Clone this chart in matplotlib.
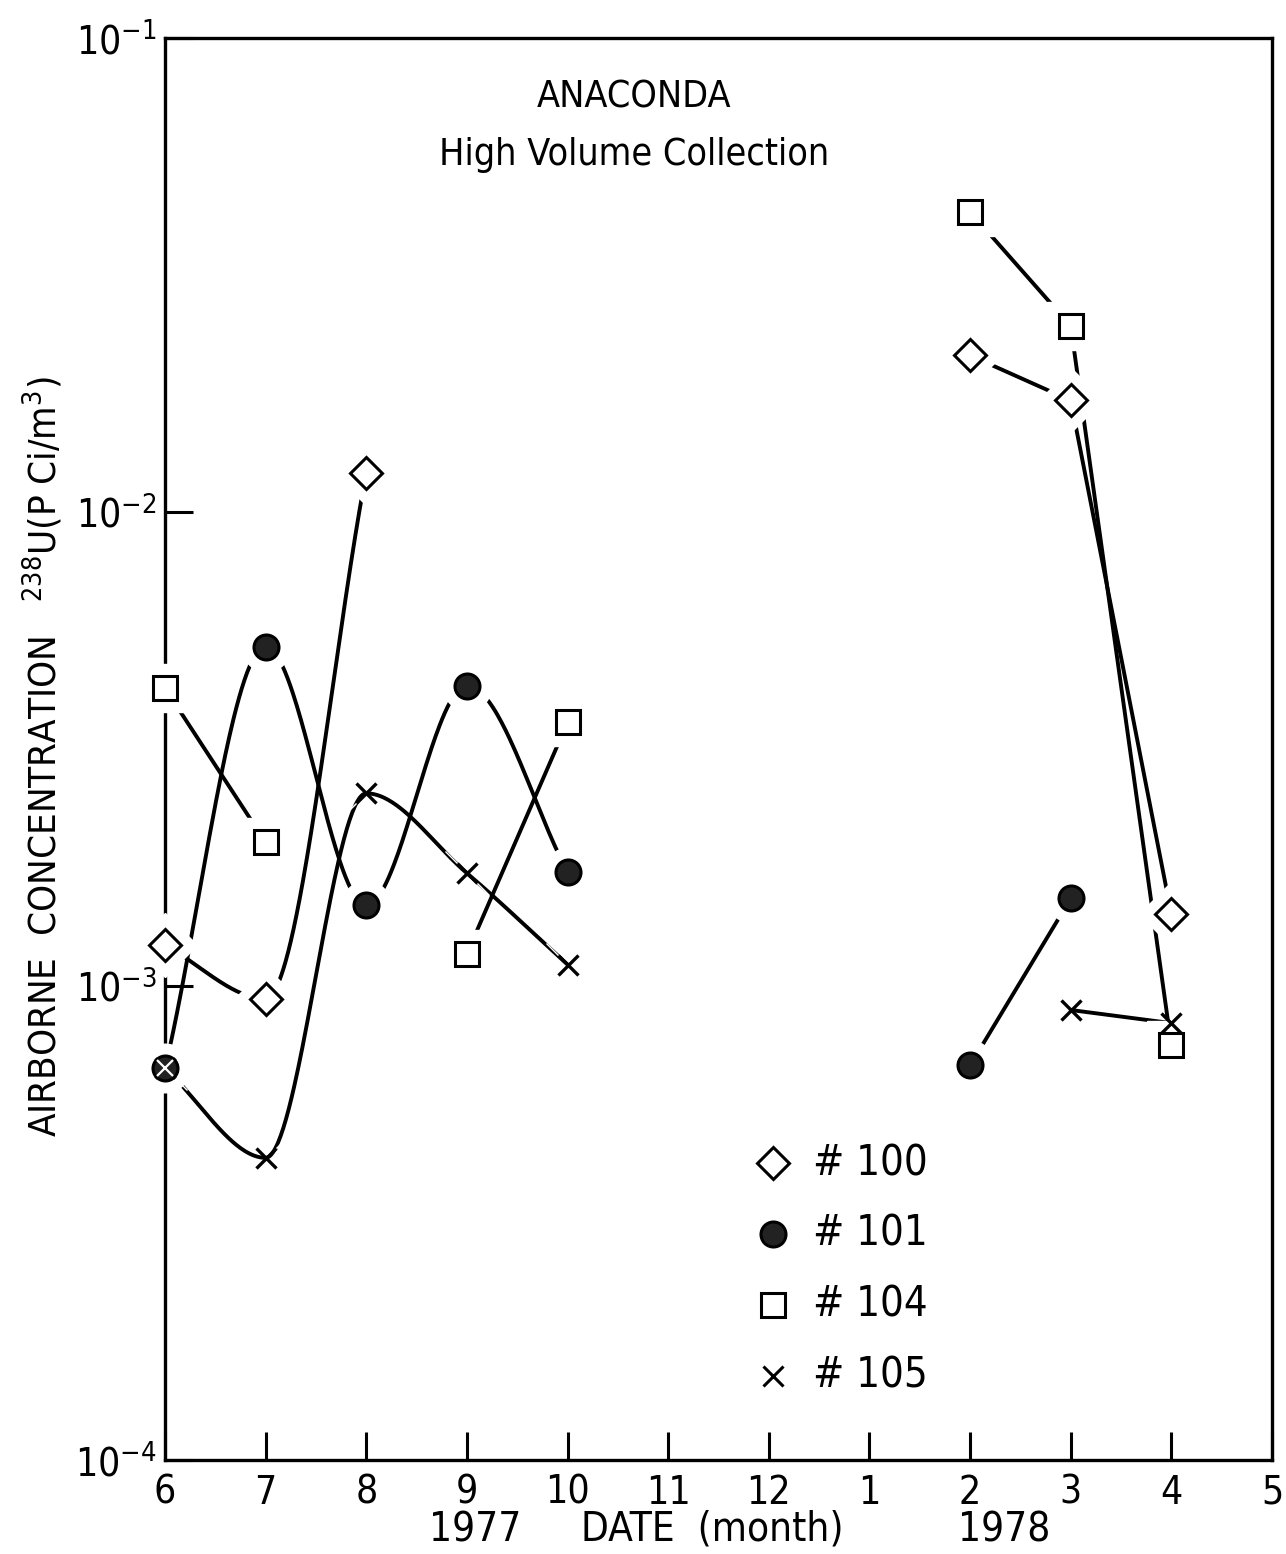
"""
Airborne 238U concentration at the Anaconda high volume samplers, 1977-1978.
"""

import numpy as np
import matplotlib
matplotlib.use("Agg")
import matplotlib.pyplot as plt

plt.rcParams['font.family'] = ['DejaVu Sans']
plt.rcParams['font.stretch'] = 'condensed'
plt.rcParams['mathtext.default'] = 'regular'

# month index 0 = June 1977 ... 11 = May 1978
month_labels = ["6", "7", "8", "9", "10", "11", "12", "1", "2", "3", "4", "5"]

# station #100 (diamond)
s100_x77 = [0, 1, 2]
s100_y77 = [1.22e-3, 9.4e-4, 1.21e-2]
s100_x78 = [8, 9, 10]
s100_y78 = [2.14e-2, 1.72e-2, 1.42e-3]

# station #101 (filled circle)
s101_x77 = [0, 1, 2, 3, 4]
s101_y77 = [6.7e-4, 5.2e-3, 1.48e-3, 4.3e-3, 1.74e-3]
s101_x78 = [8, 9]
s101_y78 = [6.8e-4, 1.53e-3]

# station #104 (square) - two separate pieces in 1977
s104_xa = [0, 1]
s104_ya = [4.25e-3, 2.01e-3]
s104_xb = [3, 4]
s104_yb = [1.17e-3, 3.6e-3]
s104_x78 = [8, 9, 10]
s104_y78 = [4.3e-2, 2.47e-2, 7.5e-4]

# station #105 (cross)
s105_x77 = [0, 1, 2, 3, 4]
s105_y77 = [6.7e-4, 4.34e-4, 2.55e-3, 1.73e-3, 1.11e-3]
s105_x78 = [9, 10]
s105_y78 = [8.9e-4, 8.35e-4]


def smooth(x, y, n=300):
    """Monotone cubic (PCHIP) through (x, log10 y), no overshoot between points."""
    x = np.asarray(x, float)
    ly = np.log10(np.asarray(y, float))
    h = np.diff(x)
    delta = np.diff(ly) / h
    k = len(x)
    d = np.zeros(k)
    for i in range(1, k - 1):
        if delta[i - 1] * delta[i] > 0:
            w1 = 2 * h[i] + h[i - 1]
            w2 = h[i] + 2 * h[i - 1]
            d[i] = (w1 + w2) / (w1 / delta[i - 1] + w2 / delta[i])
    d[0] = delta[0]
    d[-1] = delta[-1]
    xs = np.linspace(x[0], x[-1], n)
    out = np.empty_like(xs)
    for j, t in enumerate(xs):
        i = min(np.searchsorted(x, t, side="right") - 1, k - 2)
        s = (t - x[i]) / h[i]
        h00 = 2 * s ** 3 - 3 * s ** 2 + 1
        h10 = s ** 3 - 2 * s ** 2 + s
        h01 = -2 * s ** 3 + 3 * s ** 2
        h11 = s ** 3 - s ** 2
        out[j] = h00 * ly[i] + h10 * h[i] * d[i] + h01 * ly[i + 1] + h11 * h[i] * d[i + 1]
    return xs, 10 ** out


LW = 2.8
fig = plt.figure(figsize=(12.86, 15.54), dpi=100)
ax = fig.add_axes([0.1283, 0.0605, 0.8608, 0.915])

# curves
for xx, yy in [(s100_x77, s100_y77), (s101_x77, s101_y77), (s105_x77, s105_y77)]:
    xs, ys = smooth(xx, yy)
    ax.plot(xs, ys, color="k", lw=LW, zorder=2, solid_capstyle="round")
for xx, yy in [(s104_xa, s104_ya), (s104_xb, s104_yb), (s100_x78, s100_y78),
               (s101_x78, s101_y78), (s104_x78, s104_y78), (s105_x78, s105_y78)]:
    ax.plot(xx, yy, color="k", lw=LW, zorder=2, solid_capstyle="round")


def marks(xx, yy, marker, ms, fill, mew=2.2):
    # white halo first so the lines stop short of the symbols
    ax.plot(xx, yy, ls="none", marker=marker, ms=ms + 17, mfc="white",
            mec="white", zorder=3, clip_on=False)
    ax.plot(xx, yy, ls="none", marker=marker, ms=ms, mfc=fill, mec="k",
            mew=mew, zorder=4, clip_on=False)


marks(s100_x77 + s100_x78, s100_y77 + s100_y78, "D", 16, "white")
marks(s104_xa + s104_xb + s104_x78, s104_ya + s104_yb + s104_y78, "s", 17, "white")
marks(s105_x77 + s105_x78, s105_y77 + s105_y78, "x", 15, "none", mew=2.4)
marks(s101_x77 + s101_x78, s101_y77 + s101_y78, "o", 18, "#222222")
# shared June value of #101 and #105: cross shown on the dot
ax.plot(s105_x77[:1], s105_y77[:1], ls="none", marker="x", ms=12, mec="white",
        mew=1.6, zorder=5, clip_on=False)

ax.set_yscale("log")
ax.set_ylim(1e-4, 1e-1)
ax.set_xlim(0, 11)
ax.set_xticks(range(12))
ax.set_xticklabels(month_labels)
ax.set_yticks([1e-4, 1e-3, 1e-2, 1e-1])
ax.yaxis.set_minor_locator(matplotlib.ticker.NullLocator())
ax.tick_params(axis="both", direction="in", length=20, width=2.2, labelsize=28,
               pad=6)
ax.tick_params(axis="x", pad=10)
for side in ["left", "bottom", "right", "top"]:
    ax.spines[side].set_linewidth(2.4)

ax.set_ylabel("AIRBORNE  CONCENTRATION   $^{238}$U(P Ci/m$^3$)", fontsize=27.5,
              labelpad=18)
ax.yaxis.set_label_coords(-0.09, 0.495)

ax.text(0.424, 0.9585, "ANACONDA", transform=ax.transAxes, ha="center",
        va="center", fontsize=27)
ax.text(0.424, 0.9177, "High Volume Collection", transform=ax.transAxes,
        ha="center", va="center", fontsize=27)

fig.text(475 / 1286, 1 - 1530 / 1554, "1977", ha="center", va="center", fontsize=29)
fig.text(712 / 1286, 1 - 1530 / 1554, "DATE  (month)", ha="center", va="center",
         fontsize=29)
fig.text(1004 / 1286, 1 - 1530 / 1554, "1978", ha="center", va="center", fontsize=29)

# legend
leg_markers = ["D", "o", "s", "x"]
leg_names = ["# 100", "# 101", "# 104", "# 105"]
leg_sizes = [16, 18, 17, 15]
leg_fill = ["white", "#222222", "white", "none"]
for i, (mk, nm, sz, fc) in enumerate(zip(leg_markers, leg_names, leg_sizes, leg_fill)):
    ly = 1 - (1163 + 71 * i - 38) / 1422
    ax.plot([0.549], [ly], transform=ax.transAxes, marker=mk, ms=sz, mfc=fc,
            mec="k", mew=2.2, ls="none")
    ax.text(0.585, ly, nm, transform=ax.transAxes, ha="left", va="center",
            fontsize=30)

fig.savefig("out.png", dpi=100)
